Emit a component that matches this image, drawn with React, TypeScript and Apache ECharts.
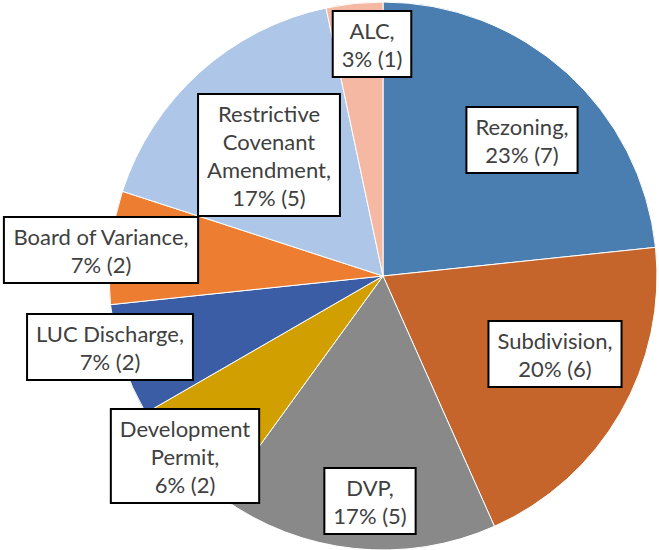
import React, { useEffect, useRef } from "react";
import * as echarts from "echarts";

const categories = [
  "Rezoning",
  "Subdivision",
  "DVP",
  "Development Permit",
  "LUC Discharge",
  "Board of Variance",
  "Restrictive Covenant Amendment",
  "ALC",
];
const counts = [7, 6, 5, 2, 2, 2, 5, 1];
const percentLabels = ["23%", "20%", "17%", "6%", "7%", "7%", "17%", "3%"];
const nameLines = [
  "Rezoning,",
  "Subdivision,",
  "DVP,",
  "Development\nPermit,",
  "LUC Discharge,",
  "Board of Variance,",
  "Restrictive\nCovenant\nAmendment,",
  "ALC,",
];
const colors = [
  "#4A7EB1",
  "#C5652B",
  "#898989",
  "#D19F00",
  "#3A5DA5",
  "#ED7D31",
  "#AEC6E7",
  "#F4B8A3",
];
// label box centres (layout only)
const labelCentres: [number, number][] = [
  [522, 140],
  [555, 354],
  [370, 501],
  [185, 456],
  [110, 347],
  [101, 250],
  [269, 155],
  [372, 44],
];

export default function App() {
  const ref = useRef<HTMLDivElement>(null);
  useEffect(() => {
    document.body.style.margin = "0";
    const chart = echarts.init(ref.current!, null, { renderer: "svg" });
    chart.setOption({
      animation: false,
      backgroundColor: "#ffffff",
      series: [
        {
          type: "pie",
          center: [383, 276],
          radius: 274,
          startAngle: 90,
          clockwise: true,
          avoidLabelOverlap: false,
          itemStyle: { borderColor: "#ffffff", borderWidth: 1 },
          labelLine: { show: false },
          label: {
            show: true,
            position: "inside",
            fontFamily: "Lato",
            fontSize: 22,
            lineHeight: 28,
            color: "#404040",
            backgroundColor: "#ffffff",
            borderColor: "#000000",
            borderWidth: 2,
            padding: [4, 8, 4, 8],
            align: "center",
            verticalAlign: "middle",
            formatter: (p: any) =>
              `${nameLines[p.dataIndex]}\n${percentLabels[p.dataIndex]} (${counts[p.dataIndex]})`,
          },
          labelLayout: (p: any) => ({
            x: labelCentres[p.dataIndex][0],
            y: labelCentres[p.dataIndex][1],
            align: "center",
            verticalAlign: "middle",
          }),
          data: categories.map((c, i) => ({
            name: c,
            value: counts[i],
            itemStyle: { color: colors[i] },
          })),
        },
      ],
    });
    return () => chart.dispose();
  }, []);
  return <div ref={ref} style={{ width: 659, height: 550 }} />;
}
